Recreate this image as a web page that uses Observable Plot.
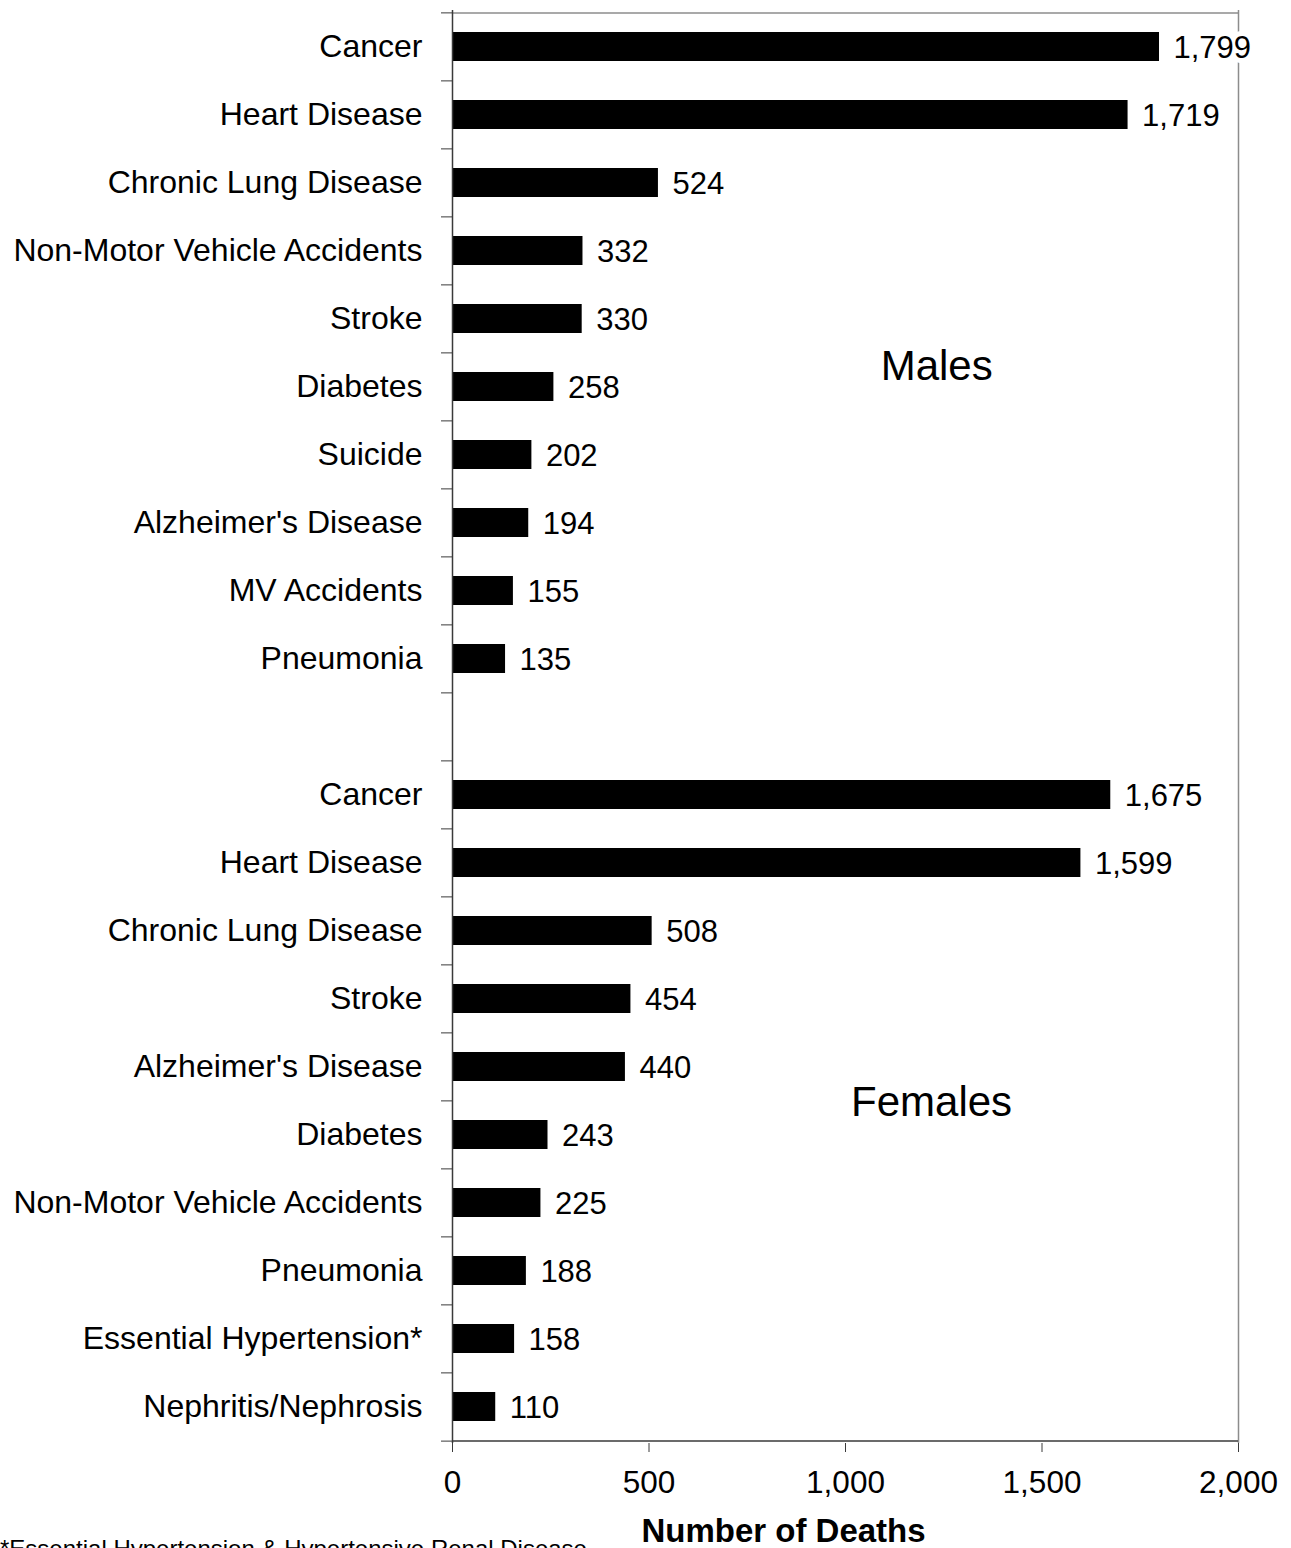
<!DOCTYPE html>
<html>
<head>
<meta charset="utf-8">
<script src="https://cdn.jsdelivr.net/npm/d3@7"></script>
<script src="https://cdn.jsdelivr.net/npm/@observablehq/plot@0.6"></script>
<style>
  html, body { margin: 0; padding: 0; background: #fff; }
  #wrap { position: relative; width: 1291px; height: 1548px; overflow: hidden; }
  #foot { position: absolute; left: 0; top: 1535px; font-family: "Liberation Sans", Arial, sans-serif; font-size: 24px; color: #000; white-space: nowrap; }
</style>
</head>
<body>
<div id="wrap"><div id="chart"></div><div id="foot">*Essential Hypertension &amp; Hypertensive Renal Disease</div></div>
<script>
const maleCauses = ["Cancer", "Heart Disease", "Chronic Lung Disease", "Non-Motor Vehicle Accidents", "Stroke", "Diabetes", "Suicide", "Alzheimer's Disease", "MV Accidents", "Pneumonia"];
const maleDeaths = [1799, 1719, 524, 332, 330, 258, 202, 194, 155, 135];
const femaleCauses = ["Cancer", "Heart Disease", "Chronic Lung Disease", "Stroke", "Alzheimer's Disease", "Diabetes", "Non-Motor Vehicle Accidents", "Pneumonia", "Essential Hypertension*", "Nephritis/Nephrosis"];
const femaleDeaths = [1675, 1599, 508, 454, 440, 243, 225, 188, 158, 110];
const xTicks = [0, 500, 1000, 1500, 2000];
const groupLabels = ["Males", "Females"];
const xLabel = "Number of Deaths";

const rows = [
  ...maleCauses.map((c, i) => ({id: "M" + i, cause: c, deaths: maleDeaths[i]})),
  {id: "gap", cause: "", deaths: null},
  ...femaleCauses.map((c, i) => ({id: "F" + i, cause: c, deaths: femaleDeaths[i]}))
];
const ids = rows.map(d => d.id);
const labelOf = new Map(rows.map(d => [d.id, d.cause]));
const bars = rows.filter(d => d.deaths != null);

const W = 1291, H = 1548, mt = 10, mb = 105, ml = 452, mr = 53;
const step = (H - mt - mb) / ids.length;
const fmt = d3.format(",");
const font = "Liberation Sans, Arial, Helvetica, sans-serif";

const chart = Plot.plot({
  width: W,
  height: H,
  marginTop: mt,
  marginBottom: mb,
  marginLeft: ml,
  marginRight: mr,
  style: {fontFamily: font, fontSize: "31px", color: "#000", background: "white", overflow: "visible"},
  x: {domain: [0, 2000], axis: null},
  y: {type: "band", domain: ids, paddingInner: 0.57, paddingOuter: 0.285, axis: null},
  marks: [
    // borders
    Plot.ruleY([ids[0]], {dy: -step / 2, stroke: "#8c8c8c", strokeWidth: 1.5}),
    Plot.ruleX([2000], {stroke: "#8c8c8c", strokeWidth: 1.5}),
    Plot.barX(bars, {x: "deaths", y: "id", fill: "black"}),
    Plot.ruleX([0], {stroke: "#3a3a3a", strokeWidth: 1.5}),
    Plot.ruleY([ids[ids.length - 1]], {dy: step / 2, stroke: "#3a3a3a", strokeWidth: 1.5}),
    // y category labels
    Plot.axisY({anchor: "left", label: null, tickSize: 0, tickPadding: 30, tickFormat: id => labelOf.get(id), fontSize: 32, fill: "#000"}),
    // boundary ticks
    Plot.axisY(ids, {anchor: "left", label: null, tickSize: 11, tickFormat: () => "", dy: -step / 2, stroke: "#3a3a3a"}),
    Plot.axisY([ids[ids.length - 1]], {anchor: "left", label: null, tickSize: 11, tickFormat: () => "", dy: step / 2, stroke: "#3a3a3a"}),
    // x axis
    Plot.axisX({anchor: "bottom", ticks: xTicks, tickFormat: fmt, tickSize: 9, tickPadding: 18, label: null, stroke: "#3a3a3a", fill: "#000", fontSize: 31.5}),
    Plot.text([xLabel], {frameAnchor: "bottom", dx: -62, dy: 98, fontWeight: "bold", fontSize: 33, fill: "#000"}),
    // value labels
    Plot.text(bars, {x: "deaths", y: "id", text: d => fmt(d.deaths), textAnchor: "start", dx: 14, dy: 1, fill: "black", stroke: "white", strokeWidth: 10, fontSize: 31}),
    // group labels
    Plot.text([groupLabels[0]], {x: 1232, y: () => "M5", dy: -20, fontSize: 42, fill: "#000"}),
    Plot.text([groupLabels[1]], {x: 1219, y: () => "F4", dy: 36, fontSize: 42, fill: "#000"})
  ]
});
document.getElementById("chart").appendChild(chart);
</script>
</body>
</html>
